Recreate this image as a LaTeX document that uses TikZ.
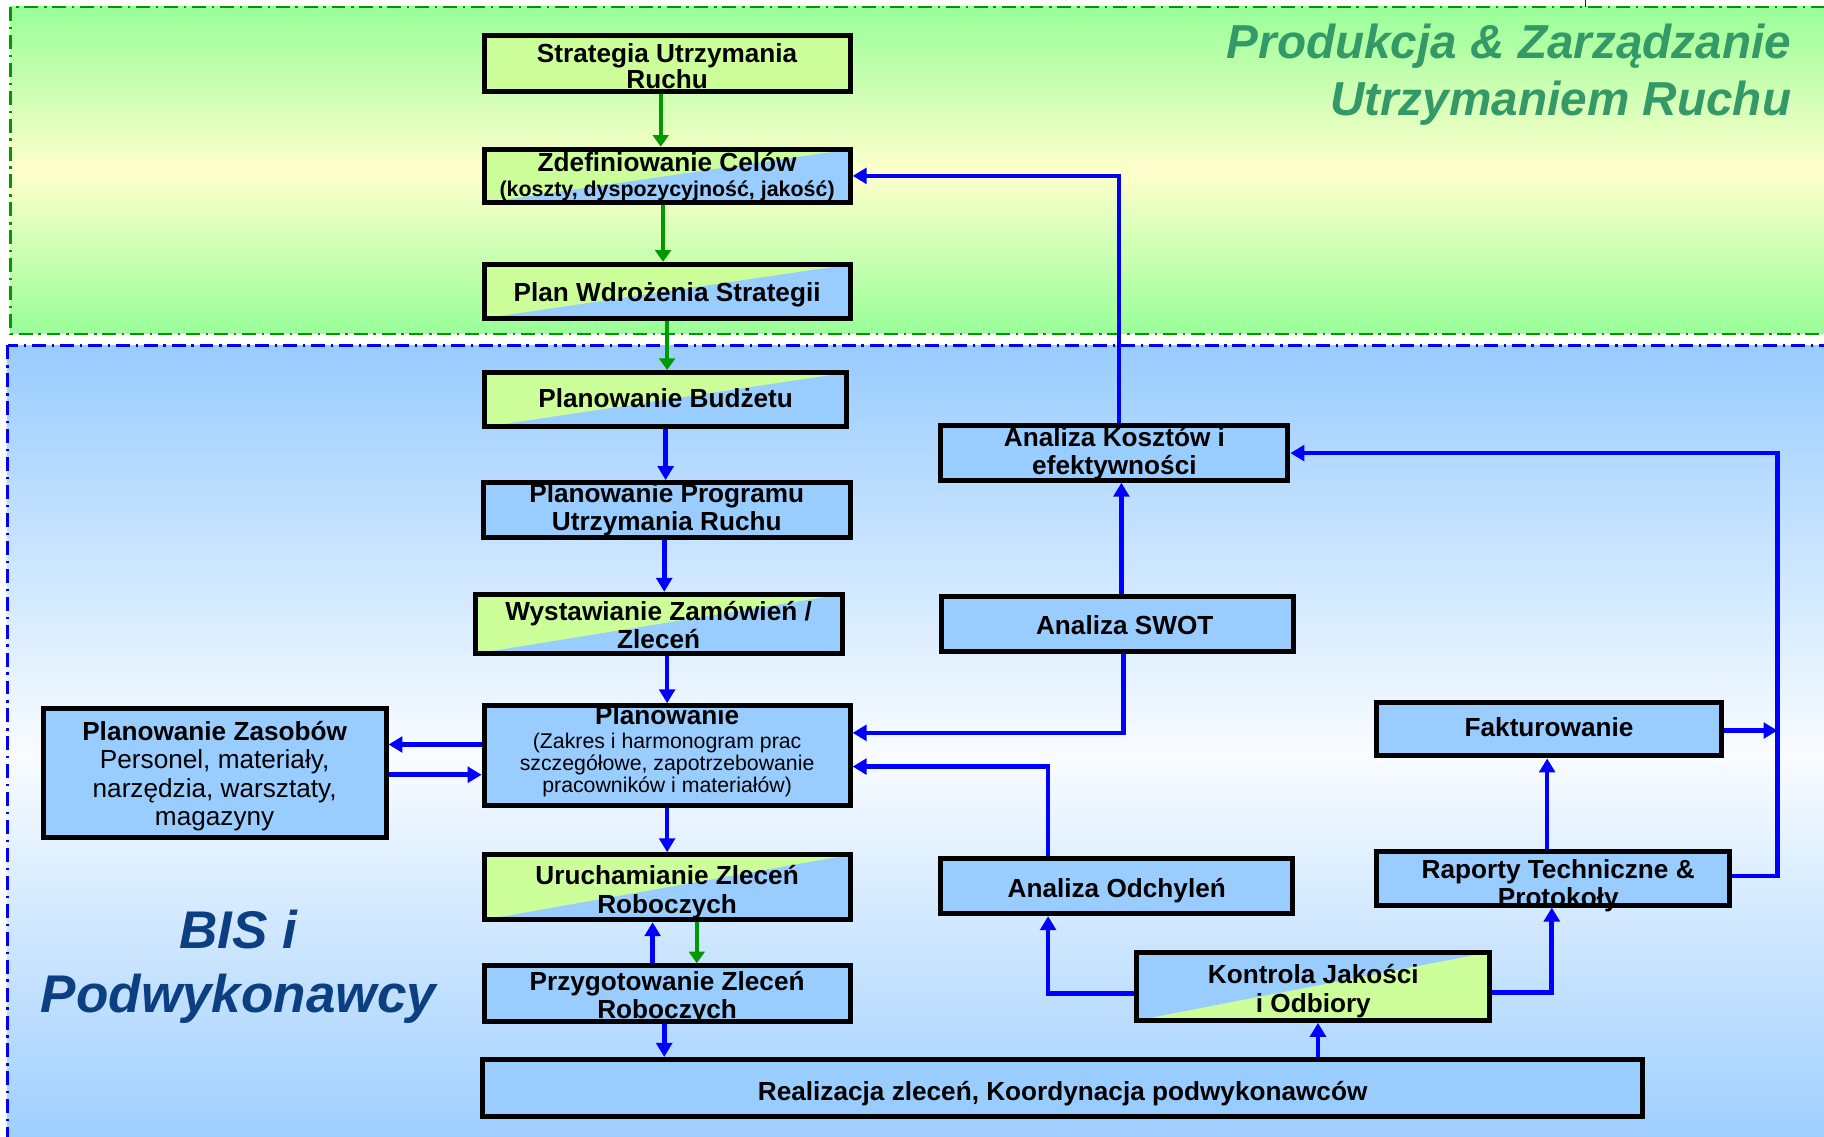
\documentclass[tikz,border=0pt]{standalone}
\usepackage{fontspec}
\setmainfont{Liberation Sans}
\usetikzlibrary{arrows.meta,calc}
\definecolor{boxblue}{HTML}{99CCFF}
\definecolor{boxgreen}{HTML}{CCFF99}
\definecolor{regblue}{HTML}{99CCFF}
\definecolor{reggreen}{HTML}{99FF99}
\definecolor{regyellow}{HTML}{FFFFCC}
\definecolor{titlegreen}{HTML}{339966}
\definecolor{bisblue}{HTML}{0B3F82}
\definecolor{arrblue}{HTML}{0000FF}
\definecolor{arrgreen}{HTML}{009900}
\newcommand{\upst}{\rule{0pt}{20pt}}
\tikzset{
  box/.style={draw=black, line width=4.3pt, inner sep=0pt, fill=boxblue},
  greenbox/.style={box, fill=boxgreen},
  splitbox/.style={box, path picture={\fill[boxgreen] (path picture bounding box.north west) -- (path picture bounding box.north east) -- (path picture bounding box.south west) -- cycle;}},
  revsplit/.style={box, fill=boxgreen, path picture={\fill[boxblue] (path picture bounding box.north west) -- (path picture bounding box.north east) -- (path picture bounding box.south west) -- cycle;}},
  sz/.style 2 args={minimum width=#1pt, minimum height=#2pt},
  btxt/.style={inner sep=0pt, align=center, anchor=north, font=\bfseries\fontsize{22.5}{24}\selectfont},
  barrow/.style={draw=arrblue, line width=4pt, -{Triangle[length=12pt,width=13.5pt]}},
  garrow/.style={draw=arrgreen, line width=3.5pt, -{Triangle[length=10pt,width=13.5pt]}},
  regline/.style={line width=2pt, dash pattern=on 12pt off 5pt on 2pt off 5pt},
}
\begin{document}
\begin{tikzpicture}[x=1pt,y=-1pt]
\useasboundingbox (0,0) rectangle (1568,977);
\clip (0,0) rectangle (1568,977);
% regions
\draw[regline, draw=arrgreen, top color=reggreen, bottom color=reggreen, middle color=regyellow] (9,6) rectangle (1600,287);
\draw[regline, draw=arrblue, top color=regblue, bottom color=regblue, middle color=white!94!regblue] (6.5,297) rectangle (1600,1000);
\draw[arrblue, line width=1pt] (1363,0) -- (1363,6);
% titles
\node[anchor=north east, inner sep=0pt, align=right, text=titlegreen,
  font=\bfseries\itshape\fontsize{41}{49}\selectfont] (title) at (1540,20) {Produkcja \& Zarządzanie\\Utrzymaniem Ruchu};
\node[anchor=north, inner sep=0pt, align=center, text=bisblue,
  font=\bfseries\itshape\fontsize{45.6}{55}\selectfont] (bis) at (205,782) {BIS i\\Podwykonawcy};
% boxes
\node[greenbox, sz={314.7}{48.1}] (strat) at (573.5,54.6) {};
\node[splitbox, sz={314.7}{45.9}] (cel) at (573.5,151.2) {};
\node[splitbox, sz={314.7}{46.4}] (plan) at (573.5,250.4) {};
\node[splitbox, sz={311.7}{46.7}] (bud) at (572.2,343.6) {};
\node[box, sz={315.7}{47.3}] (prog) at (573.2,438.5) {};
\node[splitbox, sz={315.7}{51}] (wyst) at (566.2,536.4) {};
\node[box, sz={314.7}{86}] (planow) at (573.5,649.7) {};
\node[box, sz={294.7}{110.7}] (zas) at (184.5,664.7) {};
\node[splitbox, sz={314.7}{55.9}] (uruch) at (573.5,762.7) {};
\node[box, sz={314.7}{47.9}] (przyg) at (573.5,854.1) {};
\node[box, sz={997.7}{49.3}] (real) at (913.5,935.4) {};
\node[box, sz={298.3}{46.7}] (koszt) at (958,389.5) {};
\node[box, sz={302.4}{47.8}] (swot) at (960.8,536.3) {};
\node[box, sz={302.3}{47.3}] (odch) at (960,761.8) {};
\node[revsplit, sz={303.4}{58.7}] (kontr) at (1129,847.8) {};
\node[box, sz={296.1}{45.7}] (fakt) at (1331.6,627) {};
\node[box, sz={303.7}{45.9}] (rap) at (1335,755.1) {};
% box texts
\node[btxt, font=\bfseries\fontsize{22.5}{22.5}\selectfont] (stratT) at ($(strat.center)+(0,-21)$) {\upst Strategia Utrzymania\\Ruchu};
\node[btxt, font=\bfseries\fontsize{22.5}{21.5}\selectfont] (celT) at ($(cel.center)+(0,-23.6)$) {\upst Zdefiniowanie Celów\\{\fontsize{18.4}{21.5}\selectfont (koszty, dyspozycyjność, jakość)}};
\node[btxt] (planT) at ($(plan.center)+(0,-11)$) {\upst Plan Wdrożenia Strategii};
\node[btxt] (budT) at ($(bud.center)+(0,-13.1)$) {\upst Planowanie Budżetu};
\node[btxt, font=\bfseries\fontsize{22.5}{24.3}\selectfont] (progT) at ($(prog.center)+(0,-27.1)$) {\upst Planowanie Programu\\Utrzymania Ruchu};
\node[btxt, font=\bfseries\fontsize{22.5}{24.4}\selectfont] (wystT) at ($(wyst.center)+(0,-23.3)$) {\upst Wystawianie Zamówień /\\Zleceń};
\node[btxt, font=\fontsize{18.3}{19}\selectfont] (planowT) at ($(planow.center)+(0,-47.2)$) {\upst{\bfseries\fontsize{22.5}{19}\selectfont Planowanie}\\[1.7pt](Zakres i harmonogram prac\\szczegółowe, zapotrzebowanie\\pracowników i materiałów)};
\node[btxt, font=\bfseries\fontsize{22.5}{24.4}\selectfont] (zasT) at ($(zas.center)+(0,-48.4)$) {\upst Planowanie Zasobów\\{\mdseries Personel, materiały,}\\{\mdseries narzędzia, warsztaty,}\\{\mdseries magazyny}};
\node[btxt, font=\bfseries\fontsize{22.5}{24.3}\selectfont] (uruchT) at ($(uruch.center)+(0,-22.3)$) {\upst Uruchamianie Zleceń\\Roboczych};
\node[btxt] (przygT) at ($(przyg.center)+(0,-23.1)$) {\upst Przygotowanie Zleceń\\Roboczych};
\node[btxt] (realT) at ($(real.center)+(0,-9.6)$) {\upst Realizacja zleceń, Koordynacja podwykonawców};
\node[btxt, font=\bfseries\fontsize{22.5}{24.3}\selectfont] (kosztT) at ($(koszt.center)+(0,-26)$) {\upst Analiza Kosztów i\\efektywności};
\node[btxt] (swotT) at ($(swot.center)+(6.1,-10.9)$) {\upst Analiza SWOT};
\node[btxt] (odchT) at ($(odch.center)+(0,-10.8)$) {\upst Analiza Odchyleń};
\node[btxt, font=\bfseries\fontsize{22.5}{24.9}\selectfont] (kontrT) at ($(kontr.center)+(0,-22.3)$) {\upst Kontrola Jakości\\i Odbiory};
\node[btxt] (faktT) at ($(fakt.center)+(0,-14.4)$) {\upst Fakturowanie};
\node[btxt, font=\bfseries\fontsize{22.5}{23.6}\selectfont] (rapT) at ($(rap.center)+(4.5,-19.9)$) {\upst Raporty Techniczne \&\\Protokoły};
% green connectors
\draw[garrow] ([xshift=-5.5pt]strat.south) -- ([xshift=-5.5pt]cel.north);
\draw[garrow] ([xshift=-3.5pt]cel.south) -- ([xshift=-3.5pt]plan.north);
\draw[garrow] (plan.south) -- (plan.south |- bud.north);
\draw[garrow] ([xshift=25.5pt]uruch.south) -- ([xshift=25.5pt]przyg.north);
% blue connectors
\draw[barrow] (bud.south) -- (bud.south |- prog.north);
\draw[barrow] ([xshift=-2.2pt]prog.south) -- ($(prog.south |- wyst.north)+(-2.2,0)$);
\draw[barrow] (planow.north |- wyst.south) -- (planow.north);
\draw[barrow] (planow.south) -- (uruch.north);
\draw[barrow] ([xshift=-12.5pt]przyg.north) -- ([xshift=-12.5pt]uruch.south);
\draw[barrow] ([xshift=-2.5pt]przyg.south) -- ($(przyg.south |- real.north)+(-2.5,0)$);
\draw[barrow] ([yshift=9.7pt]planow.west) -- ($(zas.east |- planow.west)+(0,-9.7)$);
\draw[barrow] ($(zas.east |- planow.west)+(0,16.3)$) -- ([yshift=-16.3pt]planow.west);
\draw[barrow] ([xshift=5.2pt]swot.south) |- ([yshift=19.7pt]planow.east);
\draw[barrow] ([xshift=-59pt]odch.north) |- ([yshift=-9.3pt]planow.east);
\draw[barrow] ([xshift=3.2pt]swot.north) -- ($(koszt.south)+(6,0)$);
\draw[barrow] ([xshift=4pt]koszt.north) |- (cel.east);
\coordinate (rc) at (1528,753);
\draw[barrow] ([yshift=2.1pt]rap.east) -- (rc) |- (koszt.east);
\draw[barrow] ([yshift=-1pt]fakt.east) -- ($(fakt.east -| rc)+(0,1)$);
\draw[barrow] ([xshift=-5pt]rap.north) -- ($(fakt.south)+(-1.6,0)$);
\draw[barrow] ([yshift=-5.2pt]kontr.east) -| ($(rap.south)+(-1,0)$);
\draw[barrow] ([yshift=-6.2pt]kontr.west) -| ($(odch.south)+(-59,0)$);
\draw[barrow] ($(real.north -| kontr.south)+(4,0)$) -- ([xshift=4pt]kontr.south);
\end{tikzpicture}
\end{document}
